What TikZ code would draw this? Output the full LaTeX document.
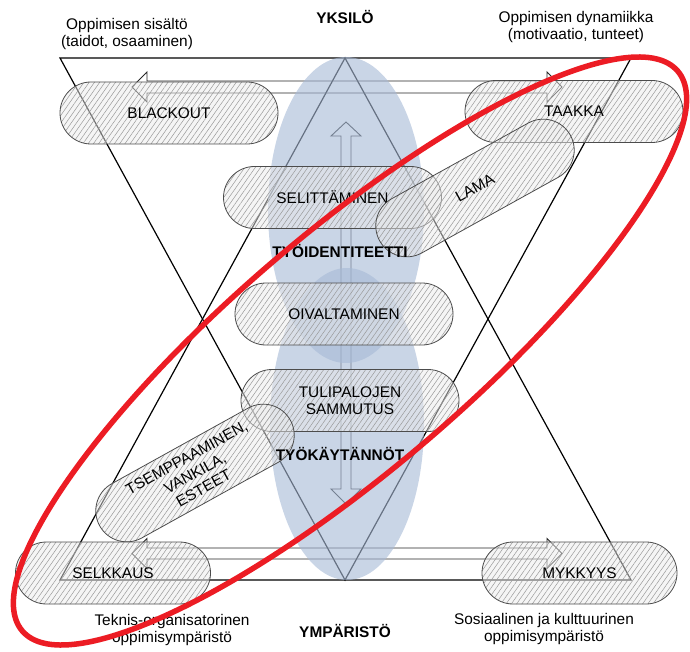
\documentclass[tikz,border=0pt]{standalone}
\usepackage{fontspec}
\setmainfont{Liberation Sans}
\usetikzlibrary{patterns.meta}
\definecolor{sky}{RGB}{167,186,214}
\definecolor{ring}{RGB}{236,28,36}
\begin{document}
\begin{tikzpicture}[x=1pt,y=-1pt,
  lbl/.style={font=\fontsize{15.4}{17.5}\selectfont, align=center, inner sep=0pt, text=black},
  headline/.style={lbl, font=\fontsize{15.4}{17.5}\selectfont\bfseries},
  edge/.style={draw=black, line width=1.2pt},
  blockarrow/.style={draw=black!85, line width=0.9pt},
  field/.style={fill=sky, fill opacity=0.61},
  hatch/.style={pattern={Lines[angle=55,distance=4.3pt,line width=0.5pt]}},
  pill/.style={lbl, shape=rectangle, rounded corners=31pt,
    minimum width=218pt, minimum height=62pt,
    draw=black!70, line width=0.8pt,
    preaction={fill=black!8, fill opacity=0.5},
    preaction={hatch, pattern color=black!40, fill opacity=0.5}},
  tiltedpill/.style={pill, rotate=29},
  shortpill/.style={pill, minimum width=195pt},
  loop/.style={draw=ring, line width=5.5pt}]

\useasboundingbox (0,0) rectangle (690,652);

% the two crossed triangles
\draw[edge, line join=miter] (60,58) -- (631,58) -- (345,580) -- cycle;
\draw[edge, line join=miter] (345,58) -- (60,580) -- (631,580) -- cycle;

% outlined double block arrows
\draw[blockarrow] (132,87) -- (147,72) -- (147,81) -- (547,81) -- (547,72) -- (562,87)
  -- (547,102) -- (547,93) -- (147,93) -- (147,102) -- cycle;
\draw[blockarrow] (132,553.5) -- (147,538.5) -- (147,548) -- (547,548) -- (547,538.5) -- (562,553.5)
  -- (547,568.5) -- (547,559) -- (147,559) -- (147,568.5) -- cycle;
\draw[blockarrow] (346,122) -- (361,136) -- (351,136) -- (351,489) -- (361,489) -- (346,504)
  -- (331,489) -- (341,489) -- (341,136) -- (331,136) -- cycle;

% the two overlapping blue fields
\fill[field] (346,210) ellipse [x radius=78, y radius=153];
\fill[field] (347,424) ellipse [x radius=77, y radius=156];

% hatched pills
\node[pill] (blackout) at (169,113) {BLACKOUT};
\node[pill] (taakka) at (574,111.5) {TAAKKA};
\node[pill] (selittaminen) at (332.5,197.5) {SELITTÄMINEN};
\node[tiltedpill] (lama) at (475,188) {LAMA};
\node[pill] (oivaltaminen) at (344,314) {OIVALTAMINEN};
\node[pill] (tulipalot) at (350,400.5) {TULIPALOJEN\\SAMMUTUS};
\node[tiltedpill] (tsemppaaminen) at (195,473) {TSEMPPAAMINEN,\\VANKILA,\\ESTEET};
\node[shortpill] (selkkaus) at (113,573) {SELKKAUS};
\node[shortpill] (mykkyys) at (579.5,573) {MYKKYYS};

% headings and corner labels
\node[headline] (tyoidentiteetti) at (340,251) {TYÖIDENTITEETTI};
\node[headline] (tyokaytannot) at (340,454) {TYÖKÄYTÄNNÖT};
\node[headline] (yksilo) at (345,17) {YKSILÖ};
\node[headline] (ymparisto) at (345,631) {YMPÄRISTÖ};
\node[lbl] (sisalto) at (127,34) {Oppimisen sisältö\\(taidot, osaaminen)};
\node[lbl] (dynamiikka) at (576,27) {Oppimisen dynamiikka\\(motivaatio, tunteet)};
\node[lbl] (teknis) at (172,630) {Teknis-organisatorinen\\oppimisympäristö};
\node[lbl] (sosiaalinen) at (544,629) {Sosiaalinen ja kulttuurinen\\oppimisympäristö};

% red emphasis ring
\draw[loop, rotate around={40.5:(350,351)}] (350,351) ellipse [x radius=431, y radius=118];

\end{tikzpicture}
\end{document}
